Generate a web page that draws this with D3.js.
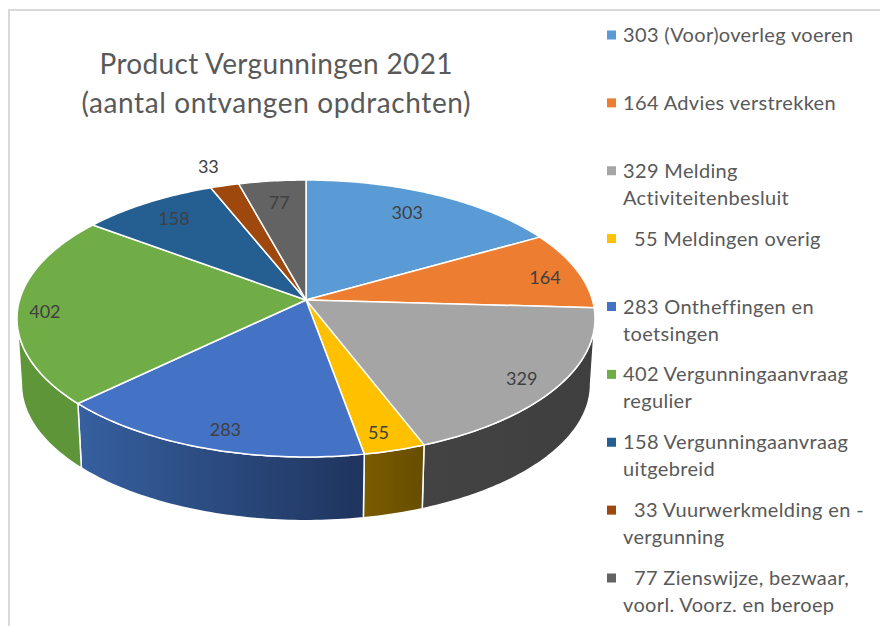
<!DOCTYPE html>
<html lang="nl">
<head>
  <meta charset="UTF-8">
  <title>Product Vergunningen 2021</title>
  <style>
    html, body {
      margin: 0;
      background: #fff;
    }

    svg {
      display: block;
    }

    text {
      font-family: Lato, "Open Sans", sans-serif;
      white-space: pre;
    }

    .title {
      font-size: 28px;
      fill: #595959;
      text-anchor: middle;
    }

    .legend text {
      font-size: 20px;
      fill: #595959;
      letter-spacing: 0.35px;
    }

    .label {
      font-size: 18px;
      fill: #404040;
      text-anchor: middle;
    }
  </style>
</head>
<body>
  <svg width="880" height="626"></svg>

  <script src="https://d3js.org/d3.v7.min.js"></script>
  <script>
    const values = [303, 164, 329, 55, 283, 402, 158, 33, 77];
    const legendLines = [
      ["(Voor)overleg voeren"],
      ["Advies verstrekken"],
      ["Melding", "Activiteitenbesluit"],
      ["Meldingen overig"],
      ["Ontheffingen en", "toetsingen"],
      ["Vergunningaanvraag", "regulier"],
      ["Vergunningaanvraag", "uitgebreid"],
      ["Vuurwerkmelding en -", "vergunning"],
      ["Zienswijze, bezwaar,", "voorl. Voorz. en beroep"]
    ];
    const titleLines = ["Product Vergunningen 2021", "(aantal ontvangen opdrachten)"];
    const titleWidths = [353, 389];

    const colors = ["#5b9bd5", "#ed7d31", "#a5a5a5", "#ffc000", "#4472c4", "#70ad47", "#255e91", "#9e480e", "#636363"];
    const sideFrom = ["#44749f", "#b25d25", "#434343", "#7a5c00", "#36609f", "#5f9639", "#1c466d", "#76360a", "#4a4a4a"];
    const sideTo = ["#44749f", "#b25d25", "#3f3f3f", "#664d00", "#1f345e", "#5f953a", "#1c466d", "#76360a", "#4a4a4a"];
    // how far out (fraction of the radius) each value label sits, plus a small hand nudge
    const labelRadius = [0.764, 0.88, 0.868, 0.898, 0.886, 0.91, 0.832, 1.188, 0.804];
    const labelNudge = [[0, -5], [0, 4], [0, 4], [-6, 0], [8, 1], [1, 4], [2, 1], [-3, 0], [1, 1]];

    const svg = d3.select("svg");

    // frame of the pasted chart
    svg.append("path")
      .attr("d", "M9,626V10H880")
      .attr("fill", "none")
      .attr("stroke", "#d9d9d9")
      .attr("stroke-width", 2);

    // pie tilted in perspective: e makes the near edge larger than the far edge
    const e = 0.1336;
    const topFace = { x0: 306, y0: 300, a: 286.4, c: 136 };
    const bottomFace = { x0: 306, y0: 366, a: 282, c: 134 };

    function project(face, angle, r = 1) {
      const w = 1 + e * r * Math.cos(angle);
      return [
        face.x0 + face.a * r * Math.sin(angle) / w,
        face.y0 - face.c * r * Math.cos(angle) / w
      ];
    }

    function rim(face, a0, a1) {
      const steps = Math.max(2, Math.ceil((a1 - a0) * 60));
      return d3.range(steps + 1).map(i => project(face, a0 + (a1 - a0) * i / steps));
    }

    const line = d3.line();
    const arcs = d3.pie().sort(null)(values);

    // rim is only visible between the two points where it turns vertical
    const sideMin = Math.acos(-e);
    const sideMax = 2 * Math.PI - sideMin;

    const defs = svg.append("defs");
    const sides = arcs.filter(d => d.endAngle > sideMin && d.startAngle < sideMax);

    sides.forEach(d => {
      const grad = defs.append("linearGradient").attr("id", "side" + d.index);
      grad.append("stop").attr("offset", "0%").attr("stop-color", sideFrom[d.index]);
      grad.append("stop").attr("offset", "100%").attr("stop-color", sideTo[d.index]);
    });

    svg.append("g").selectAll("path")
      .data(sides)
      .join("path")
      .attr("d", d => {
        const a0 = Math.max(d.startAngle, sideMin);
        const a1 = Math.min(d.endAngle, sideMax);
        return line(rim(topFace, a0, a1).concat(rim(bottomFace, a0, a1).reverse())) + "Z";
      })
      .attr("fill", d => `url(#side${d.index})`)
      .attr("stroke", "#fff")
      .attr("stroke-width", 1.5)
      .attr("stroke-linejoin", "round");

    svg.append("g").selectAll("path")
      .data(arcs)
      .join("path")
      .attr("d", d => line([project(topFace, 0, 0)].concat(rim(topFace, d.startAngle, d.endAngle))) + "Z")
      .attr("fill", d => colors[d.index])
      .attr("stroke", "#fff")
      .attr("stroke-width", 1.5)
      .attr("stroke-linejoin", "round");

    svg.append("g").selectAll("text")
      .data(arcs)
      .join("text")
      .attr("class", "label")
      .attr("x", d => project(topFace, (d.startAngle + d.endAngle) / 2, labelRadius[d.index])[0] + labelNudge[d.index][0])
      .attr("y", d => project(topFace, (d.startAngle + d.endAngle) / 2, labelRadius[d.index])[1] + labelNudge[d.index][1])
      .attr("dy", "0.35em")
      .text(d => d.value);

    svg.selectAll("text.title")
      .data(titleLines)
      .join("text")
      .attr("class", "title")
      .attr("x", 276)
      .attr("y", (d, i) => 74 + i * 39)
      .attr("textLength", (d, i) => titleWidths[i])
      .attr("lengthAdjust", "spacing")
      .text(d => d);

    // legend rows are evenly spaced, two-line entries just run into the gap
    const legendY = d3.scaleLinear().domain([0, values.length - 1]).range([35, 578]);

    const legend = svg.append("g").attr("class", "legend")
      .selectAll("g")
      .data(values)
      .join("g")
      .attr("transform", (d, i) => `translate(607,${legendY(i)})`);

    legend.append("rect")
      .attr("y", -4.5)
      .attr("width", 9)
      .attr("height", 9)
      .attr("fill", (d, i) => colors[i]);

    legend.append("text")
      .selectAll("tspan")
      .data((d, i) => legendLines[i].map((t, j) => j === 0 ? `${d < 100 ? "  " : ""}${d} ${t}` : t))
      .join("tspan")
      .attr("x", 16)
      .attr("y", (d, j) => 7 + j * 27)
      .text(d => d);
  </script>
</body>
</html>
